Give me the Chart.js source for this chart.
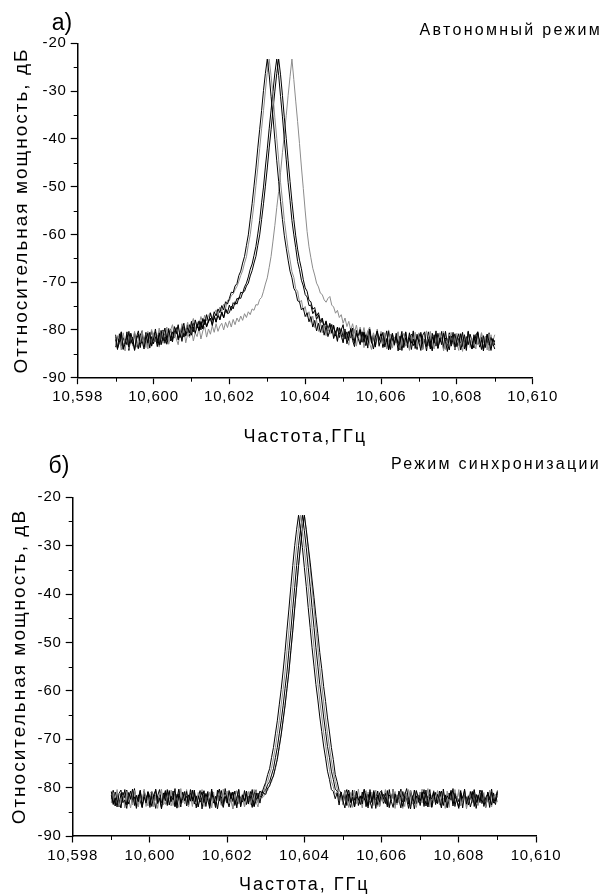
<!DOCTYPE html>
<html>
<head>
<meta charset="utf-8">
<script src="https://cdn.jsdelivr.net/npm/chart.js@4.4.1/dist/chart.umd.min.js"></script>
<style>
  body { margin: 0; background: #fff; }
  .panel { position: absolute; left: 0; width: 606px; height: 448px; }
</style>
</head>
<body>
<div class="panel" style="top:0"><canvas id="chartA" width="606" height="448"></canvas></div>
<div class="panel" style="top:448px"><canvas id="chartB" width="606" height="448"></canvas></div>
<script>
// sweep frequency grid, GHz (step 50 kHz)
const freqs = [
  10.59900,10.59905,10.59910,10.59915,10.59920,10.59925,10.59930,10.59935,10.59940,10.59945,
  10.59950,10.59955,10.59960,10.59965,10.59970,10.59975,10.59980,10.59985,10.59990,10.59995,
  10.60000,10.60005,10.60010,10.60015,10.60020,10.60025,10.60030,10.60035,10.60040,10.60045,
  10.60050,10.60055,10.60060,10.60065,10.60070,10.60075,10.60080,10.60085,10.60090,10.60095,
  10.60100,10.60105,10.60110,10.60115,10.60120,10.60125,10.60130,10.60135,10.60140,10.60145,
  10.60150,10.60155,10.60160,10.60165,10.60170,10.60175,10.60180,10.60185,10.60190,10.60195,
  10.60200,10.60205,10.60210,10.60215,10.60220,10.60225,10.60230,10.60235,10.60240,10.60245,
  10.60250,10.60255,10.60260,10.60265,10.60270,10.60275,10.60280,10.60285,10.60290,10.60295,
  10.60300,10.60305,10.60310,10.60315,10.60320,10.60325,10.60330,10.60335,10.60340,10.60345,
  10.60350,10.60355,10.60360,10.60365,10.60370,10.60375,10.60380,10.60385,10.60390,10.60395,
  10.60400,10.60405,10.60410,10.60415,10.60420,10.60425,10.60430,10.60435,10.60440,10.60445,
  10.60450,10.60455,10.60460,10.60465,10.60470,10.60475,10.60480,10.60485,10.60490,10.60495,
  10.60500,10.60505,10.60510,10.60515,10.60520,10.60525,10.60530,10.60535,10.60540,10.60545,
  10.60550,10.60555,10.60560,10.60565,10.60570,10.60575,10.60580,10.60585,10.60590,10.60595,
  10.60600,10.60605,10.60610,10.60615,10.60620,10.60625,10.60630,10.60635,10.60640,10.60645,
  10.60650,10.60655,10.60660,10.60665,10.60670,10.60675,10.60680,10.60685,10.60690,10.60695,
  10.60700,10.60705,10.60710,10.60715,10.60720,10.60725,10.60730,10.60735,10.60740,10.60745,
  10.60750,10.60755,10.60760,10.60765,10.60770,10.60775,10.60780,10.60785,10.60790,10.60795,
  10.60800,10.60805,10.60810,10.60815,10.60820,10.60825,10.60830,10.60835,10.60840,10.60845,
  10.60850,10.60855,10.60860,10.60865,10.60870,10.60875,10.60880,10.60885,10.60890,10.60895,
  10.60900
];

// а) free-running oscillator, five sweeps, dB
const freeRun1 = [
  -81.0,-83.9,-82.6,-80.4,-84.1,-82.9,-81.2,-83.6,-80.7,-82.1,
  -84.3,-81.5,-80.2,-83.0,-82.4,-84.0,-81.1,-82.7,-80.5,-83.4,
  -81.9,-79.8,-82.8,-80.6,-83.1,-81.4,-79.6,-82.2,-80.1,-81.7,
  -82.5,-79.3,-80.8,-78.9,-81.6,-80.0,-78.6,-81.3,-79.5,-80.6,
  -78.2,-80.4,-77.9,-79.6,-78.1,-80.0,-77.6,-78.9,-76.8,-78.4,
  -76.5,-78.0,-76.2,-77.1,-75.6,-76.4,-74.9,-75.8,-74.1,-74.6,
  -73.4,-72.1,-72.2,-70.8,-70.3,-68.6,-67.7,-66.0,-64.6,-62.3,
  -60.1,-56.8,-53.6,-49.9,-46.1,-41.9,-38.0,-34.1,-29.9,-26.3,
  -23.3,-26.6,-31.1,-35.4,-40.1,-44.6,-48.9,-53.1,-56.9,-60.3,
  -62.9,-65.4,-67.7,-69.1,-71.3,-72.0,-73.9,-74.1,-75.8,-75.4,
  -77.2,-76.4,-78.3,-77.2,-79.4,-78.0,-80.2,-78.6,-80.5,-79.0,
  -81.1,-79.2,-81.4,-80.0,-78.9,-81.8,-80.3,-82.4,-79.6,-81.0,
  -82.7,-80.1,-82.9,-81.4,-79.8,-82.2,-83.5,-80.6,-81.9,-83.1,
  -80.4,-82.6,-81.0,-83.8,-80.3,-82.1,-84.0,-81.5,-80.2,-83.3,
  -82.0,-80.5,-83.6,-81.8,-84.2,-82.5,-80.8,-83.0,-81.3,-84.4,
  -82.2,-80.3,-83.7,-81.6,-82.9,-80.6,-84.1,-81.9,-83.2,-80.9,
  -82.6,-84.3,-81.1,-80.4,-83.5,-82.0,-84.0,-81.4,-82.8,-80.2,
  -83.9,-81.7,-83.1,-80.7,-82.4,-84.5,-81.3,-82.9,-80.5,-83.6,
  -82.1,-80.8,-84.2,-82.6,-81.0,-83.4,-80.3,-82.7,-84.0,-81.5,
  -83.0,-80.6,-82.3,-84.1,-81.2,-83.7,-80.9,-82.5,-84.3,-81.8,
  -83.2
];
const freeRun2 = [
  -83.4,-81.2,-82.0,-84.2,-80.6,-82.8,-81.5,-83.9,-80.9,-82.4,
  -80.3,-83.6,-81.9,-82.7,-80.1,-83.2,-81.0,-84.0,-81.7,-79.9,
  -82.5,-80.7,-81.8,-79.6,-83.0,-80.2,-81.5,-79.4,-82.1,-80.0,
  -78.9,-81.6,-80.3,-79.1,-81.2,-78.7,-80.6,-79.9,-78.4,-80.8,
  -78.8,-77.6,-80.1,-78.3,-79.0,-77.2,-78.6,-76.9,-78.1,-77.0,
  -76.3,-77.9,-76.6,-75.8,-77.0,-75.2,-76.1,-74.6,-75.5,-73.8,
  -73.9,-72.8,-72.5,-71.6,-70.9,-69.8,-68.6,-67.6,-66.0,-64.7,
  -62.2,-60.1,-56.9,-53.6,-49.8,-46.1,-42.0,-37.9,-34.1,-30.0,
  -26.1,-23.3,-26.8,-30.9,-35.6,-39.9,-44.4,-49.1,-52.9,-57.1,
  -60.1,-63.1,-65.3,-67.8,-69.0,-71.4,-71.9,-74.2,-73.8,-75.9,
  -75.1,-77.3,-76.2,-78.4,-77.1,-79.5,-77.9,-80.3,-78.5,-80.6,
  -79.0,-81.2,-79.5,-80.9,-78.8,-81.7,-80.1,-82.3,-79.4,-81.5,
  -82.6,-80.0,-81.9,-83.2,-80.4,-82.0,-79.9,-83.4,-81.2,-82.8,
  -80.5,-83.7,-81.6,-80.2,-82.9,-84.1,-81.0,-82.4,-80.7,-83.5,
  -81.3,-83.0,-80.6,-84.0,-82.3,-80.9,-83.8,-81.5,-82.7,-80.4,
  -83.9,-81.8,-80.7,-83.4,-82.1,-84.3,-81.1,-82.9,-80.5,-83.6,
  -81.4,-82.5,-84.2,-80.8,-83.1,-81.7,-80.3,-82.8,-84.0,-81.2,
  -83.5,-80.6,-82.2,-84.4,-81.9,-83.0,-80.9,-82.6,-81.3,-84.1,
  -80.7,-83.3,-82.0,-84.5,-81.6,-82.9,-80.2,-83.7,-81.8,-82.4,
  -84.0,-81.1,-83.2,-80.6,-82.7,-81.4,-84.2,-80.8,-83.6,-82.3,
  -81.0
];
const freeRun3 = [
  -82.0,-84.1,-80.8,-83.3,-81.6,-82.9,-80.4,-84.3,-81.8,-83.0,
  -80.6,-82.4,-83.9,-81.1,-80.2,-83.5,-82.1,-80.7,-83.8,-81.4,
  -82.9,-80.4,-81.7,-83.2,-80.1,-82.3,-80.8,-83.0,-81.3,-79.8,
  -82.0,-80.5,-79.6,-81.8,-80.2,-82.4,-79.3,-81.0,-80.6,-78.9,
  -81.1,-79.4,-80.5,-78.6,-80.0,-78.2,-79.7,-77.8,-79.2,-78.0,
  -77.5,-78.9,-77.0,-78.3,-76.6,-77.8,-76.2,-77.4,-75.5,-76.4,
  -74.8,-75.9,-74.3,-74.7,-73.4,-73.6,-72.1,-72.3,-71.0,-70.2,
  -68.9,-67.3,-66.2,-64.4,-62.5,-59.9,-57.1,-53.4,-50.1,-45.9,
  -42.1,-37.9,-34.0,-30.1,-26.2,-23.3,-26.7,-31.1,-35.4,-40.1,
  -44.4,-49.1,-52.9,-57.1,-60.1,-62.8,-65.7,-67.4,-69.6,-70.8,
  -72.6,-73.1,-74.9,-74.8,-76.6,-75.9,-77.8,-76.9,-78.7,-77.8,
  -79.6,-78.3,-80.2,-78.9,-80.7,-79.2,-81.3,-79.5,-81.6,-80.0,
  -78.9,-81.9,-80.4,-82.2,-79.7,-81.3,-82.8,-80.1,-81.7,-79.9,
  -82.5,-80.6,-83.3,-81.2,-79.8,-82.7,-81.5,-83.6,-80.3,-82.1,
  -80.8,-83.4,-81.9,-80.2,-84.0,-82.3,-80.7,-83.1,-81.6,-82.8,
  -84.2,-81.0,-82.5,-80.4,-83.7,-81.8,-80.9,-83.3,-82.0,-84.1,
  -81.3,-80.5,-83.0,-82.2,-84.4,-81.5,-83.6,-80.7,-82.6,-81.1,
  -83.8,-82.3,-80.3,-84.0,-81.7,-82.9,-80.6,-83.4,-81.9,-84.2,
  -81.2,-82.7,-80.8,-83.5,-82.1,-84.3,-80.5,-82.4,-83.9,-81.0,
  -82.8,-80.4,-83.6,-81.5,-84.1,-82.2,-80.9,-83.2,-81.6,-82.9,
  -84.0
];
const freeRun4 = [
  -83.6,-81.3,-82.5,-80.6,-84.0,-81.9,-83.1,-80.3,-82.8,-81.5,
  -84.2,-82.0,-80.9,-83.7,-81.2,-82.6,-80.5,-83.3,-81.8,-80.2,
  -82.7,-81.4,-83.5,-80.6,-81.9,-80.0,-82.8,-81.1,-79.7,-82.3,
  -80.4,-81.7,-79.5,-82.1,-80.8,-79.2,-81.5,-80.1,-78.9,-81.3,
  -79.6,-78.5,-80.7,-79.0,-80.2,-78.3,-79.8,-77.9,-79.4,-78.2,
  -77.6,-79.1,-77.2,-78.4,-76.8,-77.9,-76.3,-77.5,-75.9,-76.6,
  -76.4,-75.0,-75.6,-74.1,-74.6,-73.2,-73.4,-72.2,-71.9,-70.8,
  -70.2,-68.7,-67.6,-66.0,-64.6,-62.3,-60.1,-56.9,-53.6,-49.9,
  -46.1,-41.9,-38.1,-33.9,-30.0,-26.3,-23.3,-26.6,-30.9,-35.6,
  -39.9,-44.6,-48.9,-53.1,-56.9,-60.3,-63.1,-65.4,-67.2,-69.5,
  -71.2,-71.9,-73.8,-74.1,-75.7,-75.3,-77.1,-76.4,-78.2,-77.5,
  -79.3,-78.1,-79.9,-78.6,-80.5,-79.0,-81.2,-79.4,-80.9,-79.7,
  -81.5,-79.8,-82.0,-80.3,-81.7,-79.6,-82.4,-80.9,-81.3,-80.0,
  -82.6,-80.4,-83.1,-81.6,-79.9,-82.8,-81.1,-83.5,-80.6,-82.2,
  -80.9,-83.7,-81.4,-82.5,-80.3,-84.1,-81.8,-83.0,-80.7,-82.9,
  -81.3,-84.3,-82.0,-80.5,-83.6,-81.7,-82.8,-80.2,-83.9,-81.4,
  -82.6,-80.8,-84.0,-81.9,-83.2,-80.4,-82.3,-84.4,-81.0,-83.4,
  -80.7,-82.5,-81.6,-83.9,-80.3,-82.9,-84.2,-81.3,-82.0,-80.8,
  -83.5,-81.8,-82.7,-80.5,-84.0,-81.4,-83.1,-80.9,-82.4,-83.8,
  -81.1,-80.4,-83.3,-82.1,-84.4,-81.6,-82.8,-80.6,-83.7,-81.9,
  -82.5
];
const freeRun5 = [
  -81.5,-83.8,-82.2,-80.4,-83.1,-84.4,-81.0,-82.6,-80.7,-83.4,
  -81.3,-82.9,-84.0,-80.8,-82.4,-81.6,-83.7,-80.3,-82.1,-83.2,
  -80.6,-82.5,-81.1,-83.6,-80.2,-82.8,-81.5,-79.9,-83.0,-81.4,
  -82.4,-80.1,-81.9,-83.1,-80.5,-82.0,-79.8,-82.7,-80.9,-81.6,
  -79.9,-82.3,-80.6,-81.4,-79.5,-81.9,-80.2,-79.3,-81.5,-79.8,
  -80.9,-79.1,-80.5,-78.7,-80.3,-79.2,-78.6,-80.0,-78.4,-79.5,
  -78.1,-79.4,-77.8,-78.9,-77.5,-78.3,-77.1,-78.0,-76.6,-77.4,
  -76.2,-76.8,-75.6,-75.9,-74.7,-74.8,-73.6,-73.2,-71.9,-70.4,
  -69.1,-66.9,-64.6,-61.4,-58.1,-54.4,-51.0,-47.1,-42.9,-39.0,
  -35.1,-30.9,-27.0,-23.3,-27.6,-32.1,-36.4,-41.0,-45.9,-50.4,
  -55.1,-59.4,-62.6,-64.9,-67.1,-68.5,-70.2,-71.0,-72.3,-72.6,
  -73.7,-74.2,-73.4,-73.0,-74.8,-75.2,-76.5,-75.9,-77.4,-76.8,
  -78.6,-77.5,-79.3,-78.2,-80.1,-78.7,-80.6,-79.0,-81.0,-79.4,
  -81.3,-79.5,-81.7,-80.2,-79.4,-82.0,-80.6,-81.9,-79.8,-82.4,
  -80.3,-82.6,-81.1,-83.0,-80.0,-82.2,-80.8,-83.4,-81.5,-80.4,
  -82.9,-81.2,-83.6,-80.5,-82.4,-84.0,-81.3,-80.7,-83.2,-82.0,
  -80.6,-83.8,-81.7,-82.5,-80.2,-83.3,-81.0,-84.2,-82.3,-80.9,
  -83.5,-81.4,-82.8,-80.3,-84.1,-81.8,-82.6,-80.5,-83.0,-81.2,
  -82.9,-84.3,-80.8,-82.2,-81.5,-83.7,-80.4,-82.7,-84.0,-81.6,
  -80.9,-83.1,-82.4,-80.6,-83.9,-81.3,-82.5,-84.4,-81.0,-83.3,
  -82.1
];

// б) injection-locked oscillator, five sweeps, dB
const locked1 = [
  -80.8,-83.5,-82.1,-84.0,-81.2,-80.5,-83.1,-82.6,-84.3,-81.0,
  -82.4,-80.3,-83.7,-81.6,-82.9,-80.7,-84.1,-81.9,-83.2,-80.9,
  -82.0,-83.9,-81.4,-80.6,-83.3,-82.2,-84.4,-81.1,-82.7,-80.4,
  -83.6,-81.8,-82.5,-80.2,-84.2,-81.3,-83.0,-82.3,-80.8,-83.8,
  -81.5,-82.8,-80.5,-83.4,-81.7,-84.0,-82.1,-80.9,-83.1,-81.2,
  -82.6,-84.3,-80.7,-82.0,-83.5,-81.4,-80.3,-82.9,-84.1,-81.8,
  -83.2,-80.6,-82.4,-81.0,-83.7,-82.2,-80.4,-84.0,-81.6,-82.8,
  -81.3,-83.4,-80.8,-82.5,-83.9,-81.1,-82.3,-80.7,-81.2,-79.9,
  -78.9,-77.3,-76.1,-73.8,-71.7,-68.9,-66.2,-62.9,-59.7,-55.9,
  -51.9,-47.4,-43.1,-38.5,-34.1,-30.0,-26.6,-23.7,-26.9,-30.4,
  -34.5,-38.4,-42.8,-46.9,-51.1,-54.9,-58.7,-61.9,-65.4,-68.4,
  -71.4,-73.9,-76.6,-78.3,-80.4,-80.8,-82.3,-81.1,-83.6,-80.9,
  -82.7,-84.2,-81.4,-80.5,-83.1,-82.0,-84.0,-80.8,-82.6,-81.7,
  -83.4,-80.3,-82.2,-83.8,-81.0,-82.9,-80.6,-84.3,-81.5,-83.0,
  -80.9,-82.4,-81.2,-83.6,-80.4,-82.8,-84.1,-81.3,-83.2,-80.7,
  -82.1,-83.9,-81.6,-80.2,-82.5,-84.4,-81.8,-83.3,-80.6,-82.0,
  -83.7,-81.1,-82.9,-80.5,-84.0,-81.9,-82.3,-80.8,-83.5,-81.4,
  -82.6,-84.2,-80.3,-83.0,-81.7,-82.4,-80.9,-83.8,-81.2,-82.8,
  -84.3,-81.0,-82.2,-80.6,-83.4,-81.8,-84.0,-82.5,-80.4,-83.1,
  -81.5,-82.7,-80.7,-83.9,-82.0,-81.3,-84.1,-80.9,-82.6,-83.5,
  -81.2
];
const locked2 = [
  -83.2,-81.0,-82.7,-80.4,-83.9,-82.3,-81.5,-84.2,-80.8,-82.9,
  -81.4,-83.6,-80.6,-82.1,-84.0,-81.7,-83.0,-80.3,-82.5,-83.8,
  -81.2,-80.7,-83.4,-82.0,-84.3,-81.6,-80.9,-82.8,-83.5,-81.1,
  -82.4,-80.5,-83.7,-81.8,-82.6,-84.1,-80.2,-83.1,-81.3,-82.9,
  -84.0,-81.9,-80.6,-82.7,-83.3,-81.0,-82.2,-80.4,-83.9,-81.5,
  -82.8,-80.9,-84.2,-81.7,-83.1,-82.5,-80.3,-83.6,-81.2,-82.0,
  -80.7,-83.3,-82.1,-84.4,-81.4,-82.9,-80.5,-83.0,-81.8,-84.0,
  -82.3,-80.8,-83.5,-81.6,-82.7,-80.4,-83.2,-81.7,-80.6,-80.9,
  -79.2,-78.8,-77.2,-76.0,-73.9,-71.7,-68.8,-66.2,-62.9,-59.7,
  -56.1,-51.7,-47.6,-42.9,-38.6,-34.1,-30.1,-26.5,-23.7,-26.9,
  -30.6,-34.3,-38.6,-42.6,-47.1,-50.9,-55.1,-58.5,-62.1,-65.2,
  -68.6,-71.2,-74.1,-76.2,-78.7,-79.8,-81.4,-80.9,-82.5,-81.3,
  -83.6,-80.7,-82.4,-84.1,-81.0,-82.8,-80.5,-83.3,-81.9,-82.2,
  -84.2,-81.3,-80.6,-83.0,-82.5,-80.9,-83.7,-81.6,-82.1,-84.0,
  -81.2,-82.9,-80.4,-83.5,-81.8,-82.6,-80.3,-84.3,-81.5,-83.1,
  -80.8,-82.3,-83.9,-81.1,-82.7,-80.5,-83.4,-81.7,-84.1,-82.0,
  -80.9,-83.2,-81.4,-82.8,-80.2,-84.0,-81.6,-83.0,-82.4,-80.6,
  -83.6,-81.9,-82.1,-84.3,-80.7,-82.9,-81.3,-83.4,-80.4,-82.5,
  -81.0,-83.8,-82.6,-80.8,-84.2,-81.5,-82.3,-83.1,-80.5,-82.9,
  -83.5,-81.2,-80.6,-82.7,-84.0,-81.8,-83.3,-80.9,-82.4,-81.4,
  -83.0
];
const locked3 = [
  -82.4,-80.6,-83.8,-81.3,-82.9,-84.2,-81.0,-82.1,-80.5,-83.4,
  -81.8,-82.6,-80.2,-83.9,-81.5,-82.8,-84.1,-80.7,-82.3,-81.2,
  -83.5,-80.9,-82.0,-84.3,-81.7,-80.4,-83.1,-82.5,-81.0,-83.7,
  -80.6,-82.8,-81.4,-84.0,-82.2,-80.3,-83.3,-81.9,-82.7,-80.8,
  -83.6,-81.2,-82.4,-80.5,-84.2,-81.7,-83.0,-82.1,-80.7,-83.9,
  -81.4,-82.9,-80.3,-83.2,-81.8,-84.4,-82.0,-80.6,-83.5,-81.1,
  -82.6,-84.0,-81.5,-80.9,-83.3,-82.2,-80.4,-83.8,-81.6,-82.8,
  -80.7,-83.1,-82.4,-84.1,-81.3,-80.5,-82.9,-81.8,-81.9,-80.8,
  -80.5,-79.3,-78.8,-77.4,-76.1,-73.8,-71.7,-68.9,-66.2,-63.1,
  -59.5,-56.1,-51.7,-47.6,-42.9,-38.6,-34.1,-30.0,-26.6,-23.7,
  -26.9,-30.4,-34.5,-38.4,-42.8,-46.9,-51.1,-54.9,-58.7,-61.9,
  -65.4,-68.4,-71.5,-73.8,-76.6,-78.3,-80.3,-80.7,-82.2,-81.0,
  -83.4,-81.6,-80.4,-82.9,-84.1,-81.2,-82.6,-80.7,-83.7,-81.9,
  -82.3,-80.5,-83.9,-81.4,-82.8,-84.3,-80.9,-82.1,-83.5,-81.1,
  -80.6,-83.2,-82.0,-84.0,-81.5,-82.7,-80.3,-83.6,-81.8,-82.4,
  -84.2,-80.8,-82.9,-81.3,-83.4,-80.5,-82.2,-84.4,-81.7,-83.0,
  -81.0,-82.5,-80.4,-83.8,-82.1,-81.4,-84.1,-80.9,-82.8,-83.3,
  -81.6,-80.7,-83.5,-82.3,-84.0,-81.1,-82.6,-80.2,-83.9,-81.8,
  -82.9,-80.6,-84.2,-81.5,-82.0,-83.6,-80.8,-82.7,-81.3,-84.3,
  -81.9,-83.1,-80.5,-82.4,-83.8,-81.0,-82.6,-80.3,-83.2,-82.1,
  -80.9
];
const locked4 = [
  -81.6,-83.3,-80.9,-82.5,-84.0,-81.2,-82.8,-80.4,-83.6,-82.0,
  -80.7,-83.1,-81.9,-84.3,-82.2,-80.5,-83.5,-81.3,-82.7,-80.8,
  -84.1,-81.7,-82.4,-80.3,-83.0,-81.5,-84.2,-82.1,-80.6,-83.4,
  -81.0,-82.9,-80.7,-83.8,-81.4,-82.3,-84.0,-80.9,-82.6,-81.8,
  -83.2,-80.4,-82.8,-81.1,-83.7,-82.0,-80.6,-84.4,-81.6,-82.5,
  -80.8,-83.9,-81.3,-82.2,-84.1,-80.5,-82.7,-81.9,-83.3,-80.2,
  -82.4,-83.6,-81.0,-82.9,-80.7,-84.2,-81.5,-82.1,-83.0,-80.6,
  -83.5,-81.8,-82.3,-80.4,-83.9,-82.6,-81.1,-83.2,-80.9,-81.2,
  -81.4,-80.1,-79.7,-78.4,-77.6,-75.8,-74.2,-71.5,-69.1,-66.0,
  -63.1,-59.5,-56.1,-51.7,-47.6,-42.9,-38.6,-34.1,-30.1,-26.5,
  -23.7,-26.7,-30.1,-33.4,-37.1,-40.7,-44.6,-48.2,-52.1,-55.4,
  -59.1,-62.2,-65.6,-68.5,-71.7,-74.2,-77.3,-78.8,-80.6,-81.0,
  -82.4,-80.6,-83.7,-81.3,-82.8,-80.5,-84.0,-81.9,-82.3,-83.5,
  -80.9,-82.6,-81.2,-84.2,-80.4,-83.1,-81.7,-82.5,-80.7,-83.8,
  -82.0,-81.4,-83.3,-80.6,-84.1,-82.2,-80.8,-83.6,-81.5,-82.9,
  -80.3,-83.0,-81.8,-82.4,-84.3,-81.1,-82.7,-80.5,-83.4,-81.6,
  -82.8,-80.9,-83.9,-81.3,-82.1,-80.4,-84.0,-82.5,-81.0,-83.2,
  -80.7,-82.3,-83.7,-81.5,-84.2,-82.0,-80.6,-83.1,-81.8,-82.6,
  -84.0,-81.2,-82.9,-80.3,-83.5,-81.7,-82.4,-80.8,-83.9,-81.4,
  -82.7,-80.5,-83.3,-81.9,-84.1,-80.9,-82.2,-83.6,-81.1,-82.8,
  -80.6
];
const locked5 = [
  -82.9,-80.5,-83.7,-81.4,-82.2,-84.1,-81.0,-83.3,-80.8,-82.6,
  -84.2,-81.7,-80.4,-82.8,-83.5,-81.1,-82.4,-80.6,-83.9,-81.9,
  -82.3,-80.8,-84.0,-81.5,-83.1,-82.7,-80.3,-83.6,-81.2,-82.5,
  -80.9,-83.8,-82.1,-81.3,-84.3,-80.6,-82.9,-81.6,-83.4,-80.4,
  -82.7,-81.8,-83.9,-80.7,-82.2,-84.0,-81.4,-83.0,-80.5,-82.8,
  -81.2,-83.5,-82.4,-80.9,-84.2,-81.6,-82.0,-83.7,-80.3,-82.6,
  -83.2,-81.0,-82.7,-84.4,-81.8,-80.6,-83.4,-82.1,-81.3,-83.9,
  -80.8,-82.5,-81.6,-83.3,-80.4,-82.9,-84.0,-81.5,-82.2,-81.8,
  -80.7,-80.6,-79.3,-78.8,-77.4,-76.1,-73.8,-71.7,-68.9,-66.2,
  -62.9,-59.7,-55.9,-51.9,-47.4,-43.1,-38.5,-34.1,-30.0,-26.6,
  -23.7,-26.9,-30.6,-34.5,-38.6,-42.8,-47.1,-51.2,-55.2,-58.8,
  -62.3,-65.6,-68.8,-71.6,-74.3,-76.7,-78.7,-80.2,-81.3,-81.8,
  -82.9,-81.2,-83.6,-80.7,-82.4,-84.1,-81.5,-82.8,-80.3,-83.3,
  -81.8,-82.2,-84.0,-80.9,-83.5,-81.4,-82.6,-80.5,-83.9,-82.0,
  -81.1,-83.4,-80.6,-82.7,-84.2,-81.7,-82.3,-80.8,-83.6,-81.3,
  -82.9,-84.3,-81.0,-82.5,-80.4,-83.8,-81.6,-82.1,-80.7,-83.2,
  -81.9,-80.3,-83.5,-82.4,-84.0,-81.2,-82.8,-80.6,-83.1,-81.5,
  -82.2,-83.9,-80.9,-82.6,-81.4,-84.1,-80.5,-83.0,-81.8,-82.7,
  -80.4,-83.6,-82.0,-81.1,-84.4,-81.9,-82.5,-80.8,-83.3,-81.6,
  -83.7,-80.6,-82.3,-81.0,-83.4,-82.8,-80.5,-84.0,-81.3,-82.9,
  -81.7
];

const freqTicks = [10.598, 10.600, 10.602, 10.604, 10.606, 10.608, 10.610];
const freqMinorTicks = [10.599, 10.601, 10.603, 10.605, 10.607, 10.609];
const powerTicks = [-90, -80, -70, -60, -50, -40, -30, -20];
const powerMinorTicks = [-85, -75, -65, -55, -45, -35, -25];
const lineColors = ['#000000', '#8c8c8c', '#000000', '#000000', '#8c8c8c'];

const FONT = "'Liberation Sans', Arial, sans-serif";

function toPoints(values) {
  return values.map(function (v, i) { return { x: freqs[i], y: v }; });
}

// minor ticks, panel letter and mode caption
const decorPlugin = {
  id: 'decor',
  beforeDraw(chart) { chart.ctx.letterSpacing = '2px'; },
  beforeDatasetsDraw(chart) { chart.ctx.letterSpacing = '0.8px'; },
  afterDraw(chart, args, opts) {
    const ctx = chart.ctx;
    const xs = chart.scales.x, ys = chart.scales.y;
    ctx.save();
    ctx.letterSpacing = '0px';
    ctx.strokeStyle = '#000';
    ctx.lineWidth = 1;
    ctx.beginPath();
    freqMinorTicks.forEach(function (v) {
      const px = Math.round(xs.getPixelForValue(v)) + 0.5;
      ctx.moveTo(px, ys.bottom);
      ctx.lineTo(px, ys.bottom + 4);
    });
    powerMinorTicks.forEach(function (v) {
      const py = Math.round(ys.getPixelForValue(v)) + 0.5;
      ctx.moveTo(xs.left, py);
      ctx.lineTo(xs.left - 4, py);
    });
    ctx.stroke();

    ctx.fillStyle = '#000';
    ctx.textBaseline = 'middle';
    ctx.font = '23px ' + FONT;
    ctx.textAlign = 'center';
    ctx.fillText(opts.label, opts.labelX, opts.labelY);
    ctx.letterSpacing = '2.3px';
    ctx.font = '16px ' + FONT;
    ctx.textAlign = 'right';
    ctx.fillText(opts.note, opts.noteX, opts.noteY);
    ctx.restore();
    ctx.letterSpacing = '0px';
  }
};

function makeChart(canvasId, series, p) {
  const tickFont = { family: FONT, size: 15 };
  return new Chart(document.getElementById(canvasId), {
    type: 'line',
    data: {
      datasets: series.map(function (s, i) {
        return {
          data: toPoints(s),
          borderColor: lineColors[i],
          borderWidth: 1,
          pointRadius: 0,
          tension: 0,
          fill: false
        };
      })
    },
    options: {
      responsive: false,
      animation: false,
      events: [],
      layout: { padding: { left: 0, right: p.padRight, top: p.padTop, bottom: 0 } },
      plugins: {
        legend: { display: false },
        tooltip: { enabled: false },
        decor: p.decor
      },
      scales: {
        x: {
          type: 'linear',
          min: 10.598,
          max: 10.610,
          afterBuildTicks: function (s) { s.ticks = freqTicks.map(function (v) { return { value: v }; }); },
          afterFit: function (s) { s.height = p.xHeight; },
          ticks: {
            font: tickFont, color: '#000', padding: 4, maxRotation: 0, autoSkip: false, z: 1,
            callback: function (v) { return Number(v).toFixed(3).replace('.', ','); }
          },
          grid: { drawOnChartArea: false, drawTicks: true, tickLength: 6.5, tickColor: '#000', tickWidth: 1.2 },
          border: { color: '#000', width: 1.5 },
          title: { display: true, text: p.xTitle, font: { family: FONT, size: 18 }, color: '#000', padding: { top: 0, bottom: 0 } }
        },
        y: {
          min: -90,
          max: -20,
          afterBuildTicks: function (s) { s.ticks = powerTicks.map(function (v) { return { value: v }; }); },
          afterFit: function (s) { s.width = p.yWidth; },
          ticks: { font: tickFont, color: '#000', padding: 4, z: 1 },
          grid: { drawOnChartArea: false, drawTicks: true, tickLength: 7, tickColor: '#000', tickWidth: 1.2 },
          border: { color: '#000', width: 1.5 },
          title: { display: true, text: p.yTitle, font: { family: FONT, size: 19 }, color: '#000', padding: { top: p.yTitlePad, bottom: 0 } }
        }
      }
    },
    plugins: [decorPlugin]
  });
}

makeChart('chartA', [freeRun1, freeRun2, freeRun3, freeRun4, freeRun5], {
  yWidth: 77.7, padRight: 73.3, padTop: 43.3, xHeight: 70.3, yTitlePad: 10,
  xTitle: 'Частота,ГГц',
  yTitle: 'Оттносительная мощность, дБ',
  decor: { label: 'а)', labelX: 62, labelY: 24, note: 'Автономный режим', noteX: 602, noteY: 31 }
});

makeChart('chartB', [locked1, locked2, locked3, locked4, locked5], {
  yWidth: 72.7, padRight: 70, padTop: 49.3, xHeight: 60, yTitlePad: 8,
  xTitle: 'Частота, ГГц',
  yTitle: 'Относительная мощность, дВ',
  decor: { label: 'б)', labelX: 59, labelY: 18.7, note: 'Режим синхронизации', noteX: 601, noteY: 17 }
});
</script>
</body>
</html>
